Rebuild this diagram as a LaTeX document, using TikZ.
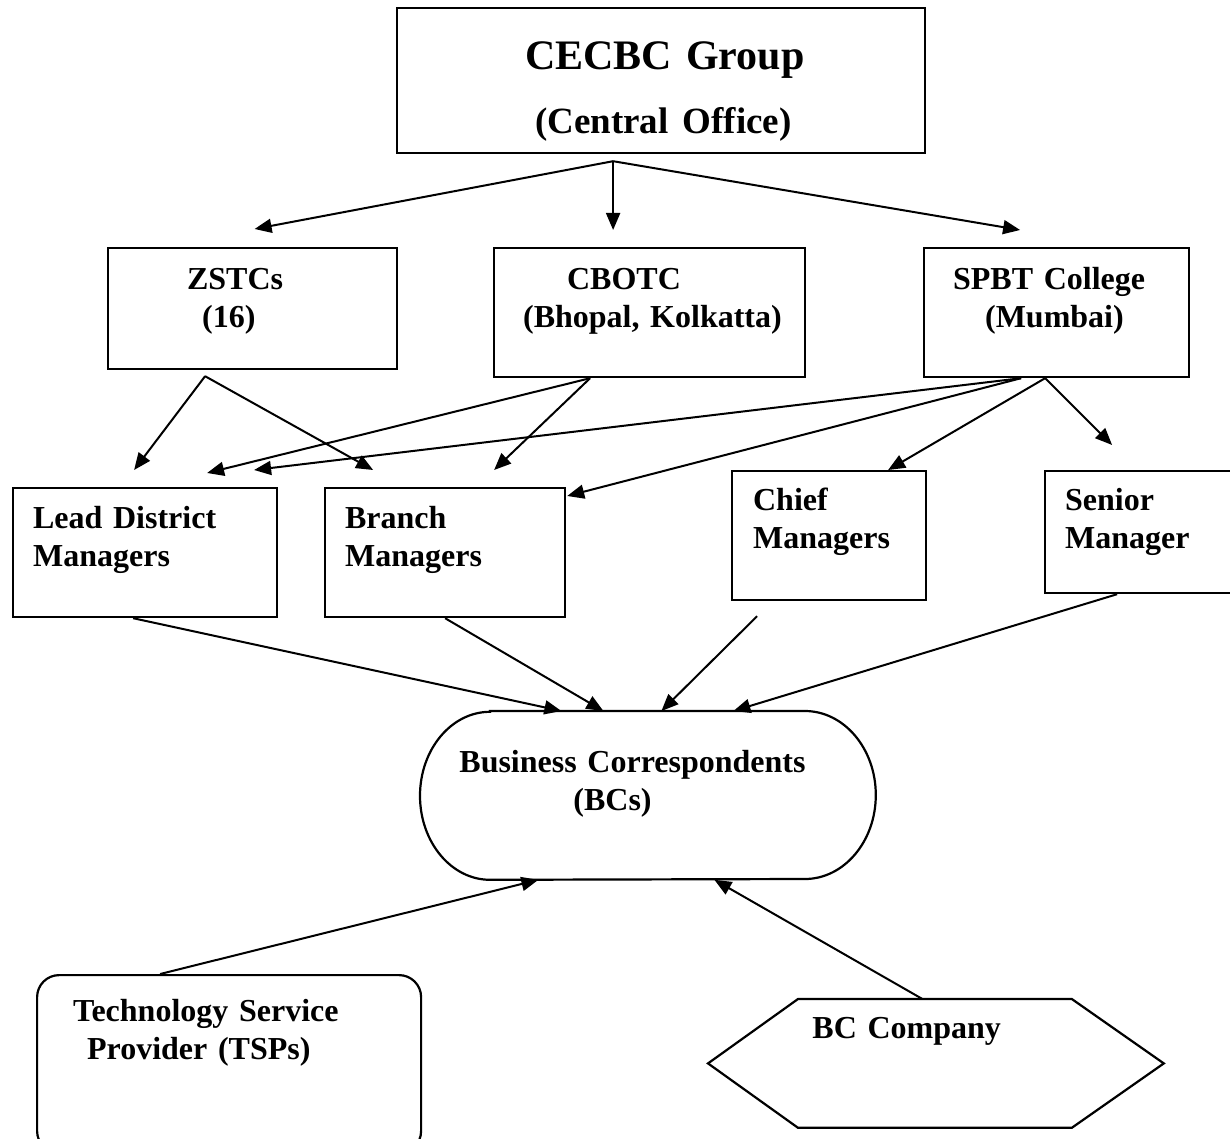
\documentclass[tikz,border=0pt]{standalone}
\usepackage{fontspec}
\setmainfont{Liberation Serif}
\usetikzlibrary{arrows.meta}

\begin{document}
\begin{tikzpicture}[
    x=0.5pt, y=-0.5pt,
    every node/.style={font=\fontsize{16pt}{19pt}\selectfont\bfseries},
    shapetext/.style={anchor=north west, align=left, inner sep=0pt},
    orgbox/.style={shapetext, draw, line width=1.1pt},
    outline/.style={line width=1.1pt},
    link/.style={-{Triangle[length=8.5pt,width=7pt]}, line width=1pt}
  ]
    \useasboundingbox (0,0) rectangle (1230,1139);
    \clip (0,0) rectangle (1230,1139);
    \fill[white] (0,0) rectangle (1230,1139);

    % central office
    \node[orgbox, text width=264pt, text height=30.5pt, text depth=42pt,
      font=\fontsize{21pt}{32pt}\selectfont\bfseries] (co) at (396,7)
      {\hspace*{64pt}CECBC Group\\ \hspace*{69pt}{\fontsize{18.5pt}{32pt}\selectfont (Central Office)}};

    % colleges
    \node[orgbox, text width=144.5pt, text height=20.5pt, text depth=40pt] (zs) at (107,247)
      {\hspace*{39.5pt}ZSTCs\\ \hspace*{47pt}(16)};
    \node[orgbox, text width=155.5pt, text height=20.5pt, text depth=44pt] (cb) at (493,247)
      {\hspace*{36.5pt}CBOTC\\ \hspace*{14.5pt}\mbox{(Bhopal, Kolkatta)}};
    \node[orgbox, text width=132.5pt, text height=20.5pt, text depth=44pt] (sp) at (923,247)
      {\hspace*{14.5pt}SPBT College\\ \hspace*{30.5pt}(Mumbai)};

    % managers
    \node[orgbox, text width=132pt, text height=20pt, text depth=44.5pt] (ld) at (12,487)
      {\hspace*{10pt}Lead District\\ \hspace*{10pt}Managers};
    \node[orgbox, text width=120pt, text height=20pt, text depth=44.5pt] (bm) at (324,487)
      {\hspace*{10pt}Branch\\ \hspace*{10pt}Managers};
    \node[orgbox, text width=97pt, text height=19.5pt, text depth=45pt] (cm) at (731,470)
      {\hspace*{10.5pt}Chief\\ \hspace*{10.5pt}Managers};
    \node[orgbox, text width=96pt, text height=19.5pt, text depth=41.5pt] (sm) at (1044,470)
      {\hspace*{10pt}Senior\\ \hspace*{10pt}Manager};

    % business correspondents
    \node[shapetext, text width=227.5pt, text height=30.5pt, text depth=53.5pt] (bcs) at (420,711)
      {\hspace*{19.5pt}Business Correspondents\\ \hspace*{76.5pt}(BCs)};
    \draw[outline] ([xshift=35pt]bcs.north west) -- ([xshift=-35.5pt]bcs.north east)
      arc[start angle=90, end angle=-90, x radius=35.5pt, y radius=42pt]
      -- ([xshift=35pt]bcs.south west)
      arc[start angle=270, end angle=90, x radius=35pt, y radius=42pt] -- cycle;

    % providers
    \node[orgbox, rounded corners=11pt, text width=192pt, text height=23pt, text depth=66pt] (tsp) at (36,974)
      {\hspace*{18pt}Technology Service\\ \hspace*{25pt}Provider (TSPs)};
    \node[shapetext, text width=227.5pt, text height=19.5pt, text depth=44.5pt] (bcc) at (708,999)
      {\hspace*{52pt}BC Company};
    \draw[outline] (bcc.west) -- ([xshift=45pt]bcc.north west) -- ([xshift=-46pt]bcc.north east)
      -- (bcc.east) -- ([xshift=-46pt]bcc.south east) -- ([xshift=45pt]bcc.south west) -- cycle;

    % arrows
    \coordinate (co-out) at ([shift={(-48,7)}]co.south);
    \draw[link] (co-out) -- ([shift={(2,-18)}]zs.north);
    \draw[link] (co-out) -- ([shift={(-36.5,-17)}]cb.north);
    \draw[link] (co-out) -- ([shift={(-36.5,-17)}]sp.north);

    \coordinate (zs-out) at ([shift={(-47.5,6)}]zs.south);
    \coordinate (cb-out) at ([shift={(-59.5,0)}]cb.south);
    \coordinate (sp-left) at ([shift={(-35.5,0)}]sp.south);
    \coordinate (sp-right) at ([shift={(-11.5,0)}]sp.south);
    \draw[link] (zs-out) -- ([shift={(-11,-17)}]ld.north);
    \draw[link] (zs-out) -- ([shift={(-72,-17)}]bm.north);
    \draw[link] (cb-out) -- ([shift={(62,-14)}]ld.north);
    \draw[link] (cb-out) -- ([shift={(49,-17)}]bm.north);
    \draw[link] (sp-left) -- ([shift={(109,-17)}]ld.north);
    \draw[link] (sp-left) -- ([shift={(1,9)}]bm.north east);
    \draw[link] (sp-right) -- ([shift={(59,0)}]cm.north);
    \draw[link] (sp-right) -- ([shift={(-29,-25)}]sm.north);

    \draw[link] ([shift={(-12,0)}]ld.south) -- ([shift={(-86.5,0)}]bcs.north);
    \draw[link] (bm.south) -- ([shift={(-44.5,0)}]bcs.north);
    \draw[link] ([shift={(-72,15)}]cm.south) -- ([shift={(13.5,0)}]bcs.north);
    \draw[link] ([shift={(-24,0)}]sm.south) -- ([shift={(85.5,0)}]bcs.north);
    \draw[link] ([shift={(-69,0)}]tsp.north) -- ([shift={(-109.5,0)}]bcs.south);
    \draw[link] ([shift={(-13.5,0)}]bcc.north) -- ([shift={(66.5,0)}]bcs.south);
  \end{tikzpicture}
\end{document}
